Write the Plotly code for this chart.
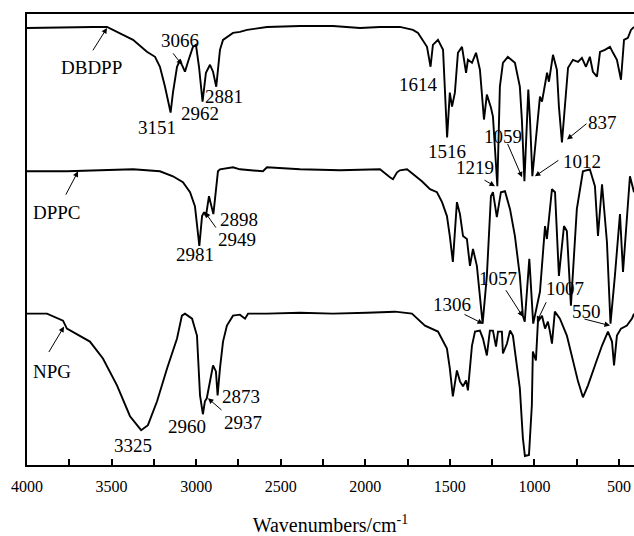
import plotly.graph_objects as go

# ---- data: wavenumber (cm^-1) and transmittance (a.u., stacked) ----
dbdpp_wn = [4000, 3764, 3610, 3527, 3373, 3291, 3243, 3214, 3184, 3151, 3137, 3113, 3095, 3084, 3066, 3048,
            3019, 3001, 2983, 2962, 2942, 2918, 2900, 2881, 2859, 2841, 2782, 2741, 2699, 2581, 2386, 2191,
            2031, 1913, 1795, 1718, 1688, 1635, 1614, 1600, 1570, 1540, 1516, 1500, 1487, 1470, 1452, 1428,
            1404, 1393, 1369, 1345, 1322, 1298, 1281, 1257, 1245, 1219, 1204, 1186, 1157, 1115, 1086, 1074,
            1059, 1036, 1026, 1012, 985, 967, 955, 937, 925, 914, 890, 867, 855, 837, 813, 801, 772, 742,
            719, 695, 672, 654, 630, 612, 583, 553, 535, 512, 488, 470, 447, 429, 411]
dbdpp_t = [439, 440, 440, 440, 427, 415, 410, 400, 380, 354, 374, 400, 407, 402, 395, 405,
           420, 422, 400, 365, 394, 402, 395, 380, 417, 427, 434, 435, 437, 440, 441, 441,
           439, 440, 440, 437, 434, 420, 400, 422, 427, 417, 329, 374, 360, 374, 414, 420,
           394, 407, 404, 414, 397, 347, 372, 359, 350, 280, 380, 404, 410, 404, 380, 347,
           285, 377, 347, 290, 337, 370, 365, 384, 394, 385, 412, 397, 360, 324, 380, 399, 407, 405,
           409, 400, 410, 395, 390, 415, 417, 420, 414, 407, 387, 427, 429, 437, 440]

dppc_wn = [4000, 3764, 3568, 3373, 3214, 3137, 3078, 3036, 3007, 2995, 2981, 2965, 2953, 2942, 2924, 2898,
           2871, 2859, 2782, 2741, 2605, 2581, 2386, 2149, 1913, 1854, 1836, 1812, 1795, 1753, 1718, 1665,
           1617, 1576, 1546, 1517, 1500, 1482, 1458, 1440, 1422, 1399, 1381, 1363, 1340, 1322, 1306, 1281,
           1257, 1245, 1222, 1198, 1174, 1144, 1115, 1086, 1068, 1057, 1030, 1007, 967, 937, 926, 896,
           878, 855, 825, 808, 784, 749, 713, 672, 642, 624, 600, 571, 550, 524, 494, 476, 435, 411]
dppc_t = [295, 295, 296, 297, 295, 290, 284, 274, 260, 240, 220, 250, 254, 250, 270, 252,
          295, 297, 299, 297, 295, 299, 297, 296, 297, 289, 287, 294, 296, 297, 292, 285,
          277, 274, 264, 250, 230, 204, 264, 252, 230, 227, 200, 217, 200, 167, 142, 190,
          270, 274, 249, 274, 275, 257, 230, 190, 150, 144, 207, 142, 174, 240, 227, 277,
          274, 190, 240, 235, 160, 257, 295, 297, 280, 230, 282, 224, 142, 190, 252, 194, 290, 274]

npg_wn = [4000, 3882, 3787, 3764, 3628, 3551, 3468, 3391, 3325, 3285, 3231, 3172, 3113, 3084, 3066, 3024,
          2995, 2989, 2977, 2960, 2948, 2937, 2900, 2883, 2873, 2859, 2841, 2818, 2782, 2741, 2711, 2693,
          2581, 2386, 2191, 1990, 1824, 1724, 1647, 1570, 1517, 1500, 1482, 1458, 1440, 1422, 1404, 1393,
          1369, 1351, 1322, 1304, 1281, 1263, 1245, 1227, 1215, 1192, 1186, 1162, 1144, 1127, 1103, 1086,
          1068, 1056, 1032, 1015, 1009, 991, 979, 955, 937, 920, 908, 896, 879, 849, 808, 772,
          742, 713, 683, 642, 600, 565, 541, 529, 512, 488, 453, 423, 411]
npg_t = [152, 152, 145, 137, 124, 107, 80, 49, 35, 40, 64, 97, 127, 150, 152, 147,
         130, 104, 70, 51, 64, 67, 100, 94, 70, 97, 124, 140, 150, 151, 147, 152,
         152, 153, 152, 153, 154, 152, 140, 134, 117, 97, 69, 95, 84, 79, 85, 75,
         120, 134, 135, 127, 110, 135, 135, 119, 134, 134, 112, 122, 135, 130, 100, 77,
         27, 9, 10, 60, 114, 105, 144, 150, 137, 144, 134, 122, 154, 147, 130, 104,
         84, 68, 80, 100, 120, 134, 124, 100, 130, 137, 140, 147, 152]

# peak labels: (text, x, y)
peak_labels = [
    ("DBDPP", 3616, 399), ("3066", 3095, 426), ("3151", 3231, 339), ("2962", 2977, 353),
    ("2881", 2835, 370), ("1614", 1688, 382), ("1516", 1517, 315), ("1059", 1186, 330),
    ("1219", 1351, 299), ("1012", 719, 305), ("837", 595, 344),
    ("DPPC", 3823, 254), ("2898", 2747, 247), ("2949", 2758, 227), ("2981", 3007, 211),
    ("1306", 1487, 161), ("1057", 1215, 187), ("1007", 819, 177), ("550", 689, 154),
    ("NPG", 3852, 94), ("3325", 3373, 20), ("2960", 3054, 39), ("2873", 2735, 69), ("2937", 2723, 43),
]
# arrows: (tail_x, tail_y, head_x, head_y)
arrows = [
    (3616, 415, 3527, 439), (3143, 415, 3084, 402), (1162, 324, 1073, 289), (1304, 287, 1233, 280),
    (849, 307, 997, 290), (683, 344, 807, 327), (3775, 270, 3698, 295), (2877, 237, 2948, 254),
    (1422, 152, 1304, 142), (1174, 177, 1068, 149), (926, 165, 985, 144), (713, 147, 553, 140),
    (3876, 112, 3781, 139), (2841, 54, 2930, 67),
]

FONT = "Liberation Serif, Times New Roman, serif"

fig = go.Figure()
for wn, t in [(dbdpp_wn, dbdpp_t), (dppc_wn, dppc_t), (npg_wn, npg_t)]:
    fig.add_trace(go.Scatter(x=wn, y=t, mode="lines", line=dict(color="black", width=1.9),
                             showlegend=False, hoverinfo="skip"))

for text, x, y in peak_labels:
    fig.add_annotation(x=x, y=y, text=text, showarrow=False,
                       font=dict(family=FONT, size=19, color="black"))
for tx, ty, hx, hy in arrows:
    fig.add_annotation(x=hx, y=hy, ax=tx, ay=ty, axref="x", ayref="y", text="",
                       showarrow=True, arrowhead=2, arrowsize=1.1, arrowwidth=1, arrowcolor="black")

fig.update_layout(
    width=634, height=536,
    margin=dict(l=27, r=0, t=14, b=69),
    plot_bgcolor="white", paper_bgcolor="white",
    font=dict(family=FONT, color="black"),
    xaxis=dict(range=[4000, 411], showgrid=False, zeroline=False,
               showline=True, linecolor="black", linewidth=2, mirror=True,
               ticks="inside", ticklen=6, tickwidth=1.5, tickcolor="black",
               tickvals=[4000, 3500, 3000, 2500, 2000, 1500, 1000, 500],
               minor=dict(tickvals=[3750, 3250, 2750, 2250, 1750, 1250, 750],
                          ticks="inside", ticklen=6, tickwidth=1.5, tickcolor="black"),
               ticklabelstandoff=6,
               tickfont=dict(family=FONT, size=16, color="black"),
               title=dict(text="Wavenumbers/cm<sup>-1</sup>", standoff=27,
                          font=dict(family=FONT, size=20, color="black"))),
    yaxis=dict(range=[0, 453], showgrid=False, zeroline=False, showticklabels=False,
               showline=True, linecolor="black", linewidth=2, ticks=""),
)

fig.write_html("out.html")
